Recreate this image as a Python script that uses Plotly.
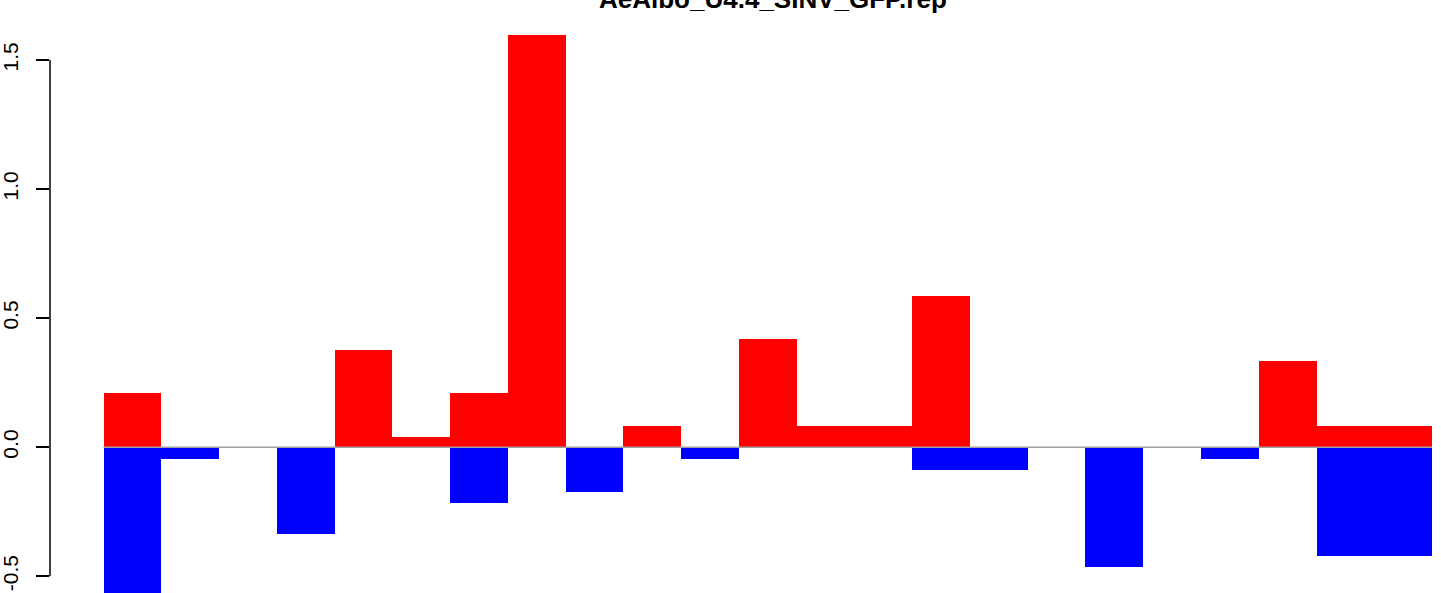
import plotly.graph_objects as go

# Data
positions = list(range(23))
up_values = [0.211, 0, 0, 0, 0.377, 0.040, 0.211, 1.597, 0, 0.083, 0, 0.420,
             0.083, 0.083, 0.587, 0, 0, 0, 0, 0, 0.335, 0.083, 0.083]
down_values = [-0.57, -0.045, 0, -0.336, 0, 0, -0.216, 0, -0.173, 0, -0.045, 0,
               0, 0, -0.087, -0.087, 0, -0.465, 0, -0.045, 0, -0.423, -0.423]
tick_vals = [-0.5, 0.0, 0.5, 1.0, 1.5]
tick_text = ["-0.5", "0.0", "0.5", "1.0", "1.5"]
title_text = "AeAlbo_U4.4_SINV_GFP.rep"

FONT = "Liberation Sans, Arial, Helvetica, sans-serif"

fig = go.Figure()
fig.add_trace(go.Bar(x=positions, y=up_values, width=1, marker=dict(color="#FF0000", line=dict(width=0)),
                     showlegend=False, hoverinfo="y"))
fig.add_trace(go.Bar(x=positions, y=down_values, width=1, marker=dict(color="#0000FF", line=dict(width=0)),
                     showlegend=False, hoverinfo="y"))

# zero line across the bars
fig.add_shape(type="line", xref="x", yref="y", x0=positions[0] - 0.5, x1=positions[-1] + 0.5,
              y0=0, y1=0, line=dict(color="#A0A0A0", width=1.5), layer="above")
# R-style y axis line spanning the tick range
fig.add_shape(type="line", xref="paper", yref="y", x0=0, x1=0, y0=tick_vals[0], y1=tick_vals[-1],
              line=dict(color="black", width=1.5), layer="above")

fig.add_annotation(text="<b>" + title_text + "</b>", xref="paper", yref="paper",
                   x=0.5196, y=1.053, xanchor="center", yanchor="middle", showarrow=False,
                   font=dict(family=FONT, size=26, color="black"))

fig.update_layout(
    width=1441, height=593,
    margin=dict(l=50, r=0, t=29, b=0, autoexpand=False),
    paper_bgcolor="white", plot_bgcolor="white",
    barmode="overlay", bargap=0,
    xaxis=dict(range=[-1.427, 22.655], showticklabels=False, showgrid=False, zeroline=False,
               showline=False, ticks="", automargin=False),
    yaxis=dict(range=[-0.565, 1.62], tickvals=tick_vals, ticktext=tick_text, tickangle=-90,
               ticks="outside", ticklen=13, tickwidth=1.5, tickcolor="black",
               showgrid=False, zeroline=False, showline=False, automargin=False,
               tickfont=dict(family=FONT, size=21, color="black"), ticklabelstandoff=10),
)

fig.write_html("out.html", config={"displayModeBar": False},
               post_script="document.body.style.margin='0px';document.body.style.overflow='hidden';")
